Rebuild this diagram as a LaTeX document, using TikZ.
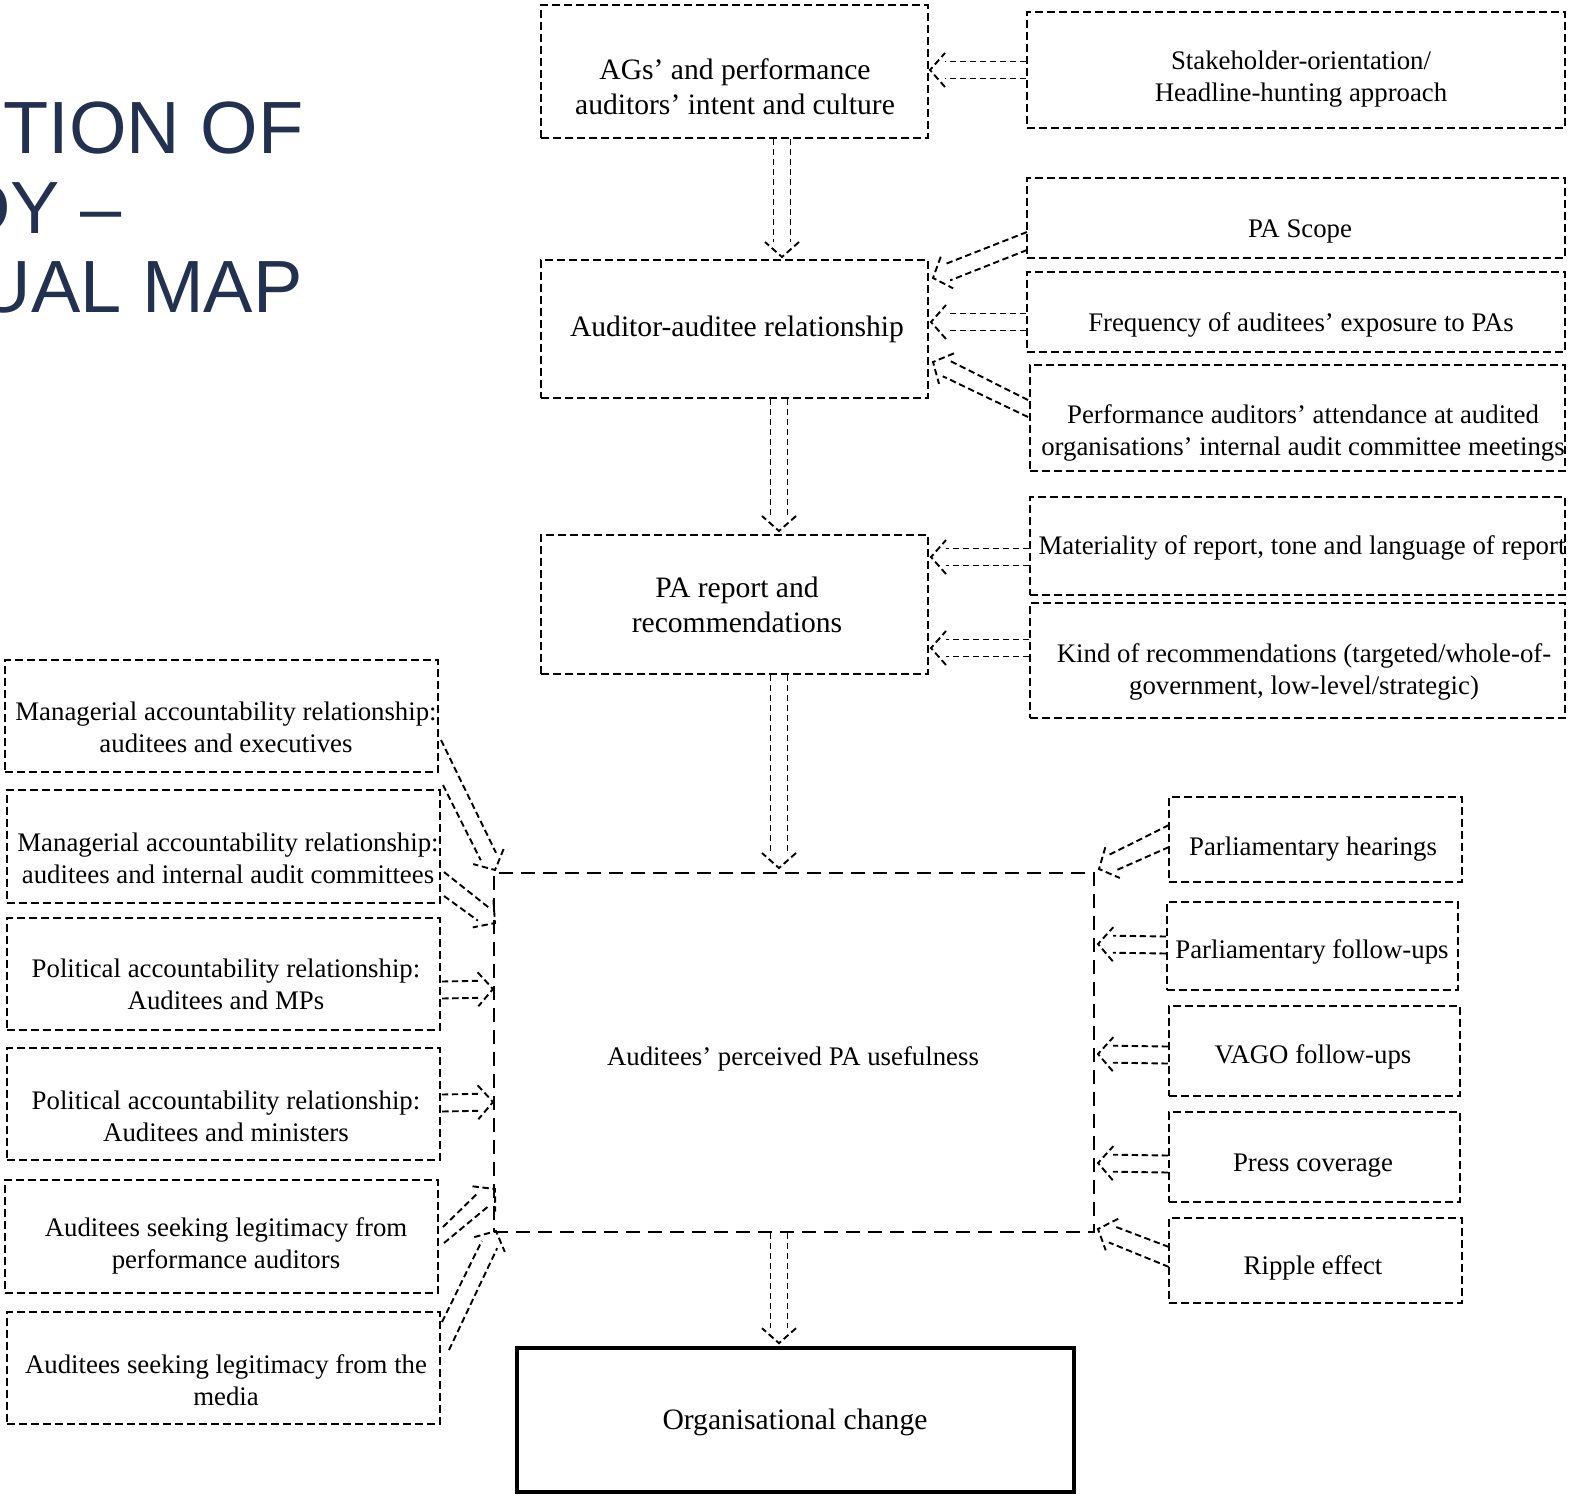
\documentclass[tikz,border=0pt]{standalone}
\usepackage{fontspec}
\setmainfont{Liberation Serif}
\newfontfamily\titlefont{Liberation Sans}
\usetikzlibrary{calc,fit}
\definecolor{navy}{RGB}{34,49,79}
\tikzset{
  box/.style={draw, line width=1pt, dash pattern=on 4pt off 2pt, inner sep=0pt},
  ctrbox/.style={draw, line width=1pt, dash pattern=on 7pt off 4pt, inner sep=0pt},
  solidbox/.style={draw, line width=1.8pt, inner sep=0pt},
  txt/.style={align=center, inner sep=0pt, font=\fontsize{13.4}{16}\selectfont},
  bigtxt/.style={align=center, inner sep=0pt, font=\fontsize{14.8}{17.5}\selectfont},
  titletxt/.style={anchor=base east, inner sep=0pt, text=navy, font=\titlefont\fontsize{37}{40}\selectfont},
  arrline/.style={line width=0.95pt, dash pattern=on 3.2pt off 1.8pt},
}
% hollow double arrow: two start points (#1,#2), tip (#3)
\newcommand\dharr[3]{%
  \coordinate (ha) at (#1); \coordinate (hb) at (#2); \coordinate (he) at (#3);
  \coordinate (hs) at ($(ha)!0.5!(hb)$);
  \coordinate (hm) at ($(he)!7.5pt!(hs)$);
  \coordinate (hp) at ($(hm)!10pt!90:(hs)$);
  \coordinate (hap) at ($(hm)!(ha)!(hp)$);
  \coordinate (hbp) at ($(hm)!(hb)!(hp)$);
  \draw[arrline] (ha) -- ($(hm)!4.25pt!(hap)$);
  \draw[arrline] (hb) -- ($(hm)!4.25pt!(hbp)$);
  \draw[arrline] ($(hm)!8.5pt!(hap)$) -- (he) -- ($(hm)!8.5pt!(hbp)$);
}
% straight hollow double arrow from #1 to #2
\newcommand\harr[2]{%
  \coordinate (hsz) at (#1); \coordinate (hez) at (#2);
  \dharr{$(hsz)!4.25pt!90:(hez)$}{$(hsz)!4.25pt!-90:(hez)$}{hez}%
}
\begin{document}
\begin{tikzpicture}[x=0.5pt,y=-0.5pt]
\fill[white] (0,0) rectangle (1573,1499);
\useasboundingbox (0,0) rectangle (1573,1499);

% title (cropped at the left edge, as in the reference)
\node[titletxt] (title1) at (304,153) {UTION OF};
\node[titletxt] (title2) at (122,233) {DY –};
\node[titletxt] (title3) at (303,312) {UAL MAP};

% main column
\node[box, fit={(541,5)(928,138)}] (ag) {};
\node[bigtxt] (agt) at (735,87) {AGs’ and performance\\auditors’ intent and culture};
\node[box, fit={(541,260)(928,398)}] (aud) {};
\node[bigtxt] (audt) at (737,329) {Auditor-auditee relationship};
\node[box, fit={(541,535)(928,674)}] (rep) {};
\node[bigtxt] (rept) at (737,604.5) {PA report and\\recommendations};
\node[ctrbox, fit={(494,873)(1094,1232)}] (ctr) {};
\node[txt] (ctrt) at (793,1059) {Auditees’ perceived PA usefulness};
\node[solidbox, fit={(517,1348)(1074,1492)}] (org) {};
\node[bigtxt] (orgt) at (795,1422) {Organisational change};

% upper right boxes
\node[box, fit={(1027,12)(1565,128)}] (stake) {};
\node[txt] (staket) at (1301,79) {Stakeholder-orientation/\\Headline-hunting approach};
\node[box, fit={(1027,178)(1565,258)}] (scope) {};
\node[txt] (scopet) at (1300,231) {PA Scope};
\node[box, fit={(1027,272)(1565,352)}] (freq) {};
\node[txt] (freqt) at (1301,325) {Frequency of auditees’ exposure to PAs};
\node[box, fit={(1030,365)(1565,471)}] (att) {};
\node[txt] (attt) at (1303,433) {Performance auditors’ attendance at audited\\organisations’ internal audit committee meetings};
\node[box, fit={(1030,497)(1565,595)}] (mat) {};
\node[txt] (matt) at (1302,548) {Materiality of report, tone and language of report};
\node[box, fit={(1030,603)(1565,718)}] (kind) {};
\node[txt] (kindt) at (1304,672) {Kind of recommendations (targeted/whole-of-\\government, low-level/strategic)};

% left boxes
\node[box, fit={(5,660)(438,772)}] (la) {};
\node[txt] (lat) at (226,727) {Managerial accountability relationship:\\auditees and executives};
\node[box, fit={(7,790)(440,903)}] (lb) {};
\node[txt] (lbt) at (228,858) {Managerial accountability relationship:\\auditees and internal audit committees};
\node[box, fit={(7,918)(440,1030)}] (lc) {};
\node[txt] (lct) at (226,984) {Political accountability relationship:\\Auditees and MPs};
\node[box, fit={(7,1048)(440,1160)}] (ld) {};
\node[txt] (ldt) at (226,1116) {Political accountability relationship:\\Auditees and ministers};
\node[box, fit={(5,1180)(438,1293)}] (le) {};
\node[txt] (let) at (226,1246) {Auditees seeking legitimacy from\\performance auditors};
\node[box, fit={(7,1312)(440,1424)}] (lf) {};
\node[txt] (lft) at (226,1380) {Auditees seeking legitimacy from the\\media};

% right lower boxes
\node[box, fit={(1169,797)(1462,882)}] (ra) {};
\node[txt] (rat) at (1313,849) {Parliamentary hearings};
\node[box, fit={(1167,902)(1458,990)}] (rb) {};
\node[txt] (rbt) at (1312,952) {Parliamentary follow-ups};
\node[box, fit={(1169,1006)(1460,1096)}] (rc) {};
\node[txt] (rct) at (1313,1057) {VAGO follow-ups};
\node[box, fit={(1169,1112)(1460,1202)}] (rd) {};
\node[txt] (rdt) at (1313,1166) {Press coverage};
\node[box, fit={(1169,1218)(1462,1303)}] (re) {};
\node[txt] (ret) at (1313,1268) {Ripple effect};

% vertical arrows of the main column
\harr{$(ag.south)+(47.5,0)$}{$(aud.north)+(47.5,-2)$}
\harr{$(aud.south)+(44.5,0)$}{$(rep.north)+(44.5,-3)$}
\harr{$(rep.south)+(44.5,0)$}{$(ctr.north)+(-15,-4)$}
\harr{$(ctr.south)+(-15,0)$}{$(org.north)+(-16.5,-3)$}

% upper right arrows
\harr{stake.west}{$(stake.west -| ag.east)+(1,0)$}
\dharr{$(scope.west)+(1,14)$}{$(scope.west)+(1,32)$}{$(aud.east)+(4,-51)$}
\harr{$(freq.west)+(0,10)$}{$(aud.east)+(2,-7)$}
\dharr{$(att.west)+(-1,-18)$}{$(att.west)+(-1,-1)$}{$(aud.east)+(4,33)$}
\harr{$(mat.west)+(0,11)$}{$(rep.east)+(2,-47.5)$}
\harr{$(kind.west)+(0,-12.5)$}{$(rep.east)+(2,43.5)$}

% left arrows
\dharr{$(la.east)+(2,24)$}{$(la.east)+(4,69)$}{$(ctr.north west)+(2,-2)$}
\dharr{$(lb.east)+(3,25.5)$}{$(lb.east)+(3,49.5)$}{$(ctr.north west)+(2,51)$}
\harr{$(lc.east)+(1,16)$}{$(ctr.north west)+(0,117)$}
\harr{$(ld.east)+(1,-1)$}{$(ctr.north west)+(0,230)$}
\dharr{$(le.east)+(4,-9.5)$}{$(le.east)+(5,6.5)$}{$(ctr.south west)+(2,-44)$}
\dharr{$(lf.east)+(1,-46)$}{$(lf.east)+(8,-18)$}{$(ctr.south west)+(3,-2)$}

% right arrows
\dharr{$(ra.west)+(1,-14.5)$}{$(ra.west)+(1,7.5)$}{$(ctr.north east)+(4,-3)$}
\harr{$(rb.west)+(0,-1)$}{$(ctr.north east)+(3,72)$}
\harr{$(rc.west)+(0,4)$}{$(ctr.north east)+(3,182)$}
\harr{$(rd.west)+(0,7)$}{$(ctr.north east)+(3,291)$}
\dharr{$(re.west)+(1,-13.5)$}{$(re.west)+(1,6.5)$}{$(ctr.south east)+(3,-4)$}
\end{tikzpicture}
\end{document}
